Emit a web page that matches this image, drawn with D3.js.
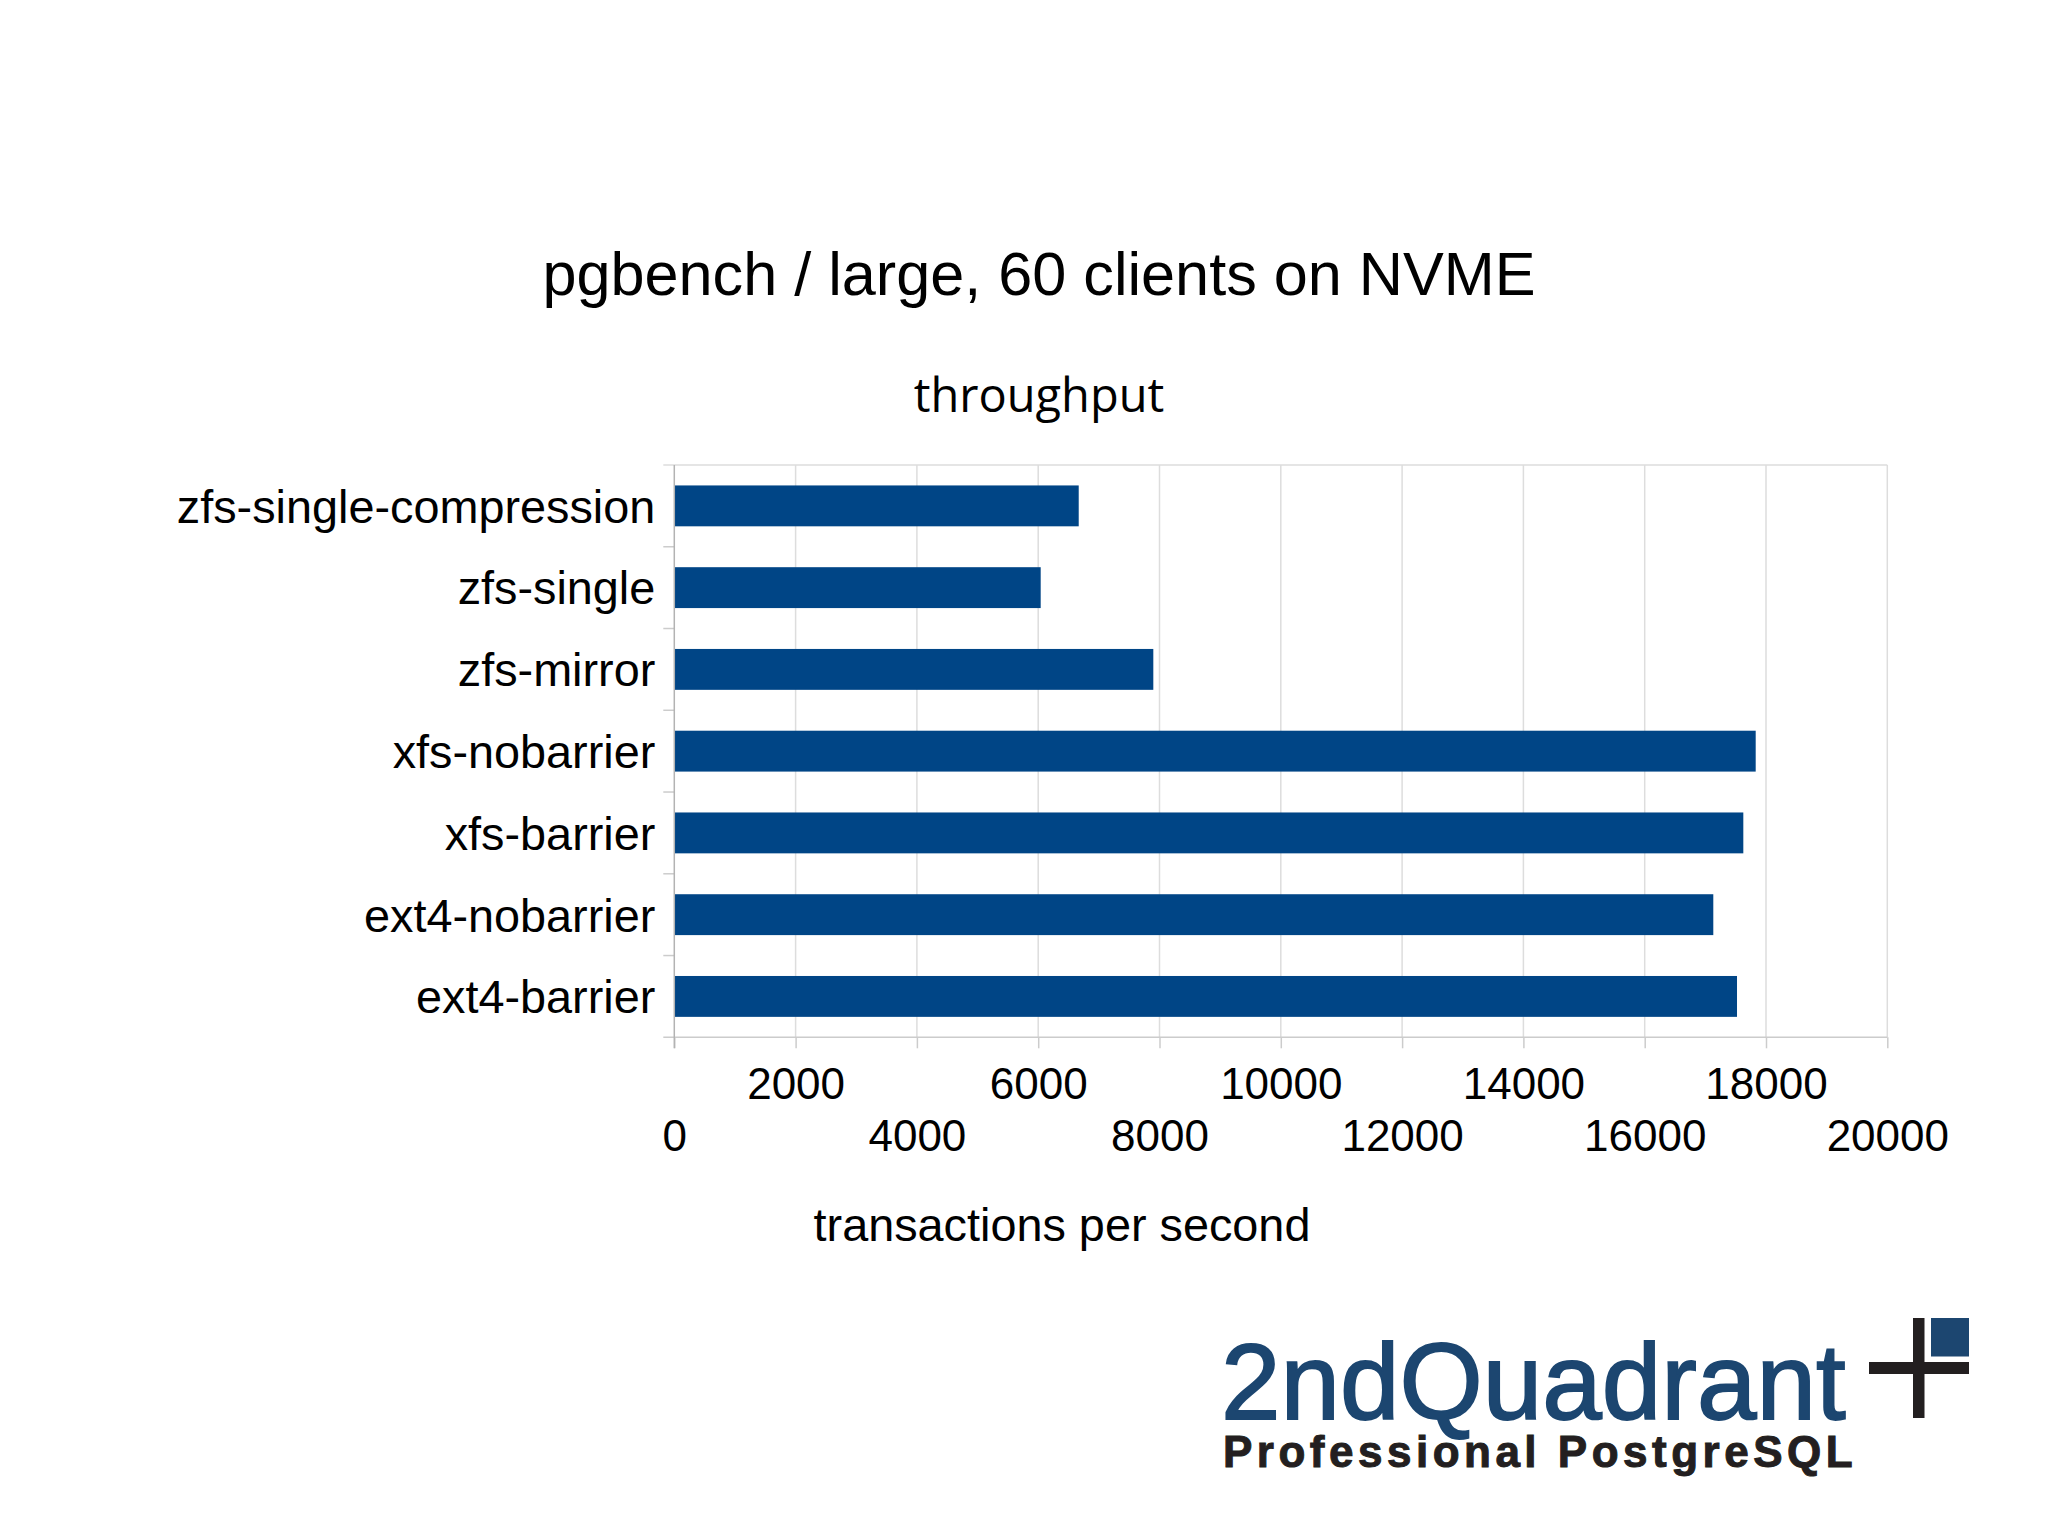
<!DOCTYPE html>
<html>
<head>
<meta charset="utf-8">
<script src="https://cdn.jsdelivr.net/npm/d3@7"></script>
<style>
  body { margin: 0; background: #fff; }
  svg { display: block; }
</style>
</head>
<body>
<script>
// data
var categories = ['zfs-single-compression', 'zfs-single', 'zfs-mirror', 'xfs-nobarrier', 'xfs-barrier', 'ext4-nobarrier', 'ext4-barrier'];
var tps = [6668, 6041, 7898, 17830, 17626, 17131, 17522];
var xTicks = [0, 2000, 4000, 6000, 8000, 10000, 12000, 14000, 16000, 18000, 20000];

var title = 'pgbench / large, 60 clients on NVME';
var subtitle = 'throughput';
var xTitle = 'transactions per second';

// Graphic properties
var width = 2048, height = 1535;
var plot = { left: 674.3, right: 1887.3, top: 465, bottom: 1037.3 };
var sans = '"Liberation Sans", Arial, sans-serif';

var svg = d3.select('body').append('svg')
    .attr('width', width)
    .attr('height', height);

svg.append('rect')
    .attr('width', width)
    .attr('height', height)
    .attr('fill', '#fff');

var x = d3.scaleLinear()
    .domain([0, 20000])
    .range([plot.left, plot.right]);

var y = d3.scaleBand()
    .domain(categories)
    .range([plot.top, plot.bottom])
    .paddingInner(0.5)
    .paddingOuter(0.25);

var step = y.step();

// vertical grid lines
svg.append('g')
    .selectAll('line')
    .data(xTicks.slice(1))
    .join('line')
    .attr('x1', function (d) { return x(d); })
    .attr('x2', function (d) { return x(d); })
    .attr('y1', plot.top)
    .attr('y2', plot.bottom)
    .attr('stroke', '#dddddd')
    .attr('stroke-width', 1.5);

// top border
svg.append('line')
    .attr('x1', plot.left - 11).attr('x2', plot.right)
    .attr('y1', plot.top).attr('y2', plot.top)
    .attr('stroke', '#dddddd')
    .attr('stroke-width', 1.5);

// category ticks at the band boundaries
var boundaries = categories.map(function (d) { return y(d) - (step - y.bandwidth()) / 2; });
boundaries.push(plot.bottom);

svg.append('g')
    .selectAll('line')
    .data(boundaries.slice(1, -1))
    .join('line')
    .attr('x1', plot.left - 11)
    .attr('x2', plot.left)
    .attr('y1', function (d) { return d; })
    .attr('y2', function (d) { return d; })
    .attr('stroke', '#cccccc')
    .attr('stroke-width', 1.5);

// bars
svg.append('g')
    .selectAll('rect')
    .data(categories)
    .join('rect')
    .attr('x', x(0))
    .attr('y', function (d) { return y(d); })
    .attr('width', function (d, i) { return x(tps[i]) - x(0); })
    .attr('height', y.bandwidth())
    .attr('fill', '#004586');

// x axis, labels staggered on two rows
var xAxis = svg.append('g')
    .attr('transform', 'translate(0,' + plot.bottom + ')')
    .call(d3.axisBottom(x).tickValues(xTicks).tickFormat(d3.format('d')).tickSize(11).tickSizeOuter(0));

xAxis.select('.domain')
    .attr('d', 'M' + (plot.left - 11) + ',0H' + plot.right)
    .attr('stroke', '#cccccc')
    .attr('stroke-width', 1.5);

xAxis.selectAll('.tick line')
    .attr('stroke', '#cccccc')
    .attr('stroke-width', 1.5);

xAxis.selectAll('.tick text')
    .attr('y', function (d, i) { return i % 2 === 1 ? 61.7 : 113.7; })
    .attr('dy', 0)
    .attr('fill', '#000')
    .style('font-family', sans)
    .style('font-size', '44px');

// y axis
var yAxis = svg.append('g')
    .attr('transform', 'translate(' + plot.left + ',0)')
    .call(d3.axisLeft(y).tickSize(0).tickPadding(19));

yAxis.select('.domain')
    .attr('d', 'M0,' + plot.top + 'V' + (plot.bottom + 11))
    .attr('stroke', '#b3b3b3')
    .attr('stroke-width', 1.5);

yAxis.selectAll('.tick text')
    .attr('dy', '0.36em')
    .attr('fill', '#000')
    .style('font-family', sans)
    .style('font-size', '46.8px');

// titles
svg.append('text')
    .attr('x', 1039)
    .attr('y', 295)
    .attr('text-anchor', 'middle')
    .style('font-family', sans)
    .style('font-size', '61.2px')
    .text(title);

svg.append('text')
    .attr('x', 1039)
    .attr('y', 411.7)
    .attr('text-anchor', 'middle')
    .style('font-family', '"Open Sans", sans-serif')
    .style('font-size', '47px')
    .text(subtitle);

svg.append('text')
    .attr('x', 1062)
    .attr('y', 1241)
    .attr('text-anchor', 'middle')
    .style('font-family', sans)
    .style('font-size', '46.8px')
    .text(xTitle);

// logo
var logo = svg.append('g');

logo.append('text')
    .attr('x', 1221)
    .attr('y', 1419)
    .attr('fill', '#1c4670')
    .attr('stroke', '#1c4670')
    .attr('stroke-width', 1.8)
    .style('font-family', sans)
    .style('font-size', '107px')
    .text('2ndQuadrant');

logo.append('text')
    .attr('x', 1223)
    .attr('y', 1467)
    .attr('fill', '#231f20')
    .attr('stroke', '#231f20')
    .attr('stroke-width', 1)
    .style('font-family', sans)
    .style('font-size', '44px')
    .style('font-weight', 'bold')
    .style('letter-spacing', '4.5px')
    .text('Professional PostgreSQL');

logo.append('rect').attr('x', 1913).attr('y', 1318).attr('width', 11.5).attr('height', 100).attr('fill', '#231f20');
logo.append('rect').attr('x', 1869).attr('y', 1362).attr('width', 100).attr('height', 12).attr('fill', '#231f20');
logo.append('rect').attr('x', 1931).attr('y', 1318).attr('width', 38).attr('height', 38.5).attr('fill', '#1c4670');
</script>
</body>
</html>
